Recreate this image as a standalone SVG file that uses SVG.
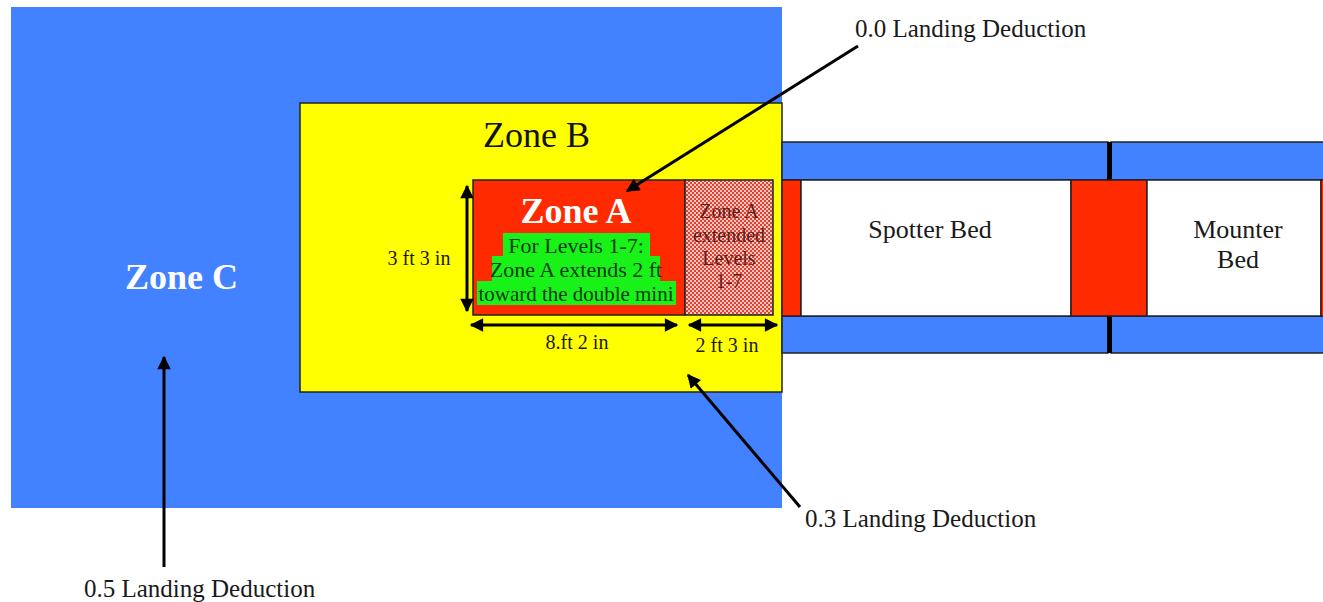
<svg xmlns="http://www.w3.org/2000/svg" width="1323" height="602" viewBox="0 0 1323 602">
<style>
text{font-family:"Liberation Serif","Times New Roman",serif;}
.lbl{font-size:25px;fill:#1a1a1a;}
.bed{font-size:26px;fill:#1a1a1a;text-anchor:middle;}
.dim{font-size:20px;fill:#1a1a1a;}
.grn{font-size:22px;fill:#0a3a0a;text-anchor:middle;}
.hat{font-size:20px;fill:#5a1e1e;text-anchor:middle;}
.ol{stroke:#222;stroke-width:1.5;}
.blue{fill:#4281ff;}
.red{fill:#ff2a00;}
.con{stroke:#000;stroke-width:3;fill:none;}
</style>
<defs>
<marker id="ah" viewBox="0 0 10 10" refX="9" refY="5" markerWidth="5" markerHeight="4.5" orient="auto-start-reverse" markerUnits="strokeWidth">
<path d="M0,0 L10,5 L0,10 z" fill="#000"/>
</marker>
<pattern id="chk" width="4" height="4" patternUnits="userSpaceOnUse">
<rect width="4" height="4" fill="#f3c8c2"/>
<rect width="2" height="2" fill="#e4402f"/>
<rect x="2" y="2" width="2" height="2" fill="#e4402f"/>
</pattern>
</defs>
<rect width="1323" height="602" fill="#fff"/>

<g id="zoneC">
<rect class="blue" x="11" y="7" width="771" height="501"/>
<text x="125" y="289" font-size="36" font-weight="bold" fill="#fff">Zone C</text>
</g>

<g id="zoneB">
<rect class="ol" x="300" y="103" width="482" height="289" fill="#ffff00"/>
<text x="483" y="147" font-size="36" fill="#111">Zone B</text>
</g>

<g id="strips">
<rect class="blue ol" x="782" y="142" width="326" height="38"/>
<rect class="blue ol" x="1111" y="142" width="214" height="38"/>
<rect class="blue ol" x="782" y="316" width="326" height="37"/>
<rect class="blue ol" x="1111" y="316" width="214" height="37"/>
<rect x="1107" y="142" width="5" height="38" fill="#000"/>
<rect x="1107" y="316" width="5" height="37" fill="#000"/>
</g>

<g id="spotterBed">
<rect class="red ol" x="782" y="180" width="19" height="136"/>
<rect class="ol" x="801" y="180" width="270" height="136" fill="#fff"/>
<text class="bed" x="930" y="238">Spotter Bed</text>
</g>

<g id="mounterBed">
<rect class="red ol" x="1071" y="180" width="76" height="136"/>
<rect class="ol" x="1147" y="180" width="174" height="136" fill="#fff"/>
<rect class="red ol" x="1321" y="180" width="4" height="136"/>
<text class="bed" x="1238" y="238">Mounter</text>
<text class="bed" x="1238" y="268">Bed</text>
</g>

<g id="zoneA">
<rect class="red ol" x="473" y="180" width="212" height="135"/>
<text x="576" y="223" font-size="36" font-weight="bold" fill="#fff" text-anchor="middle">Zone A</text>
<rect x="503" y="233" width="147" height="23" fill="#19f219"/>
<rect x="492" y="256" width="168" height="25" fill="#19f219"/>
<rect x="477" y="281" width="199" height="24" fill="#19f219"/>
<text class="grn" x="576" y="253">For Levels 1-7:</text>
<text class="grn" x="576" y="277">Zone A extends 2 ft</text>
<text class="grn" x="576" y="301" textLength="195" lengthAdjust="spacingAndGlyphs">toward the double mini</text>
</g>

<g id="zoneAext">
<rect class="ol" x="685" y="180" width="88" height="135" fill="url(#chk)"/>
<text class="hat" x="729" y="218">Zone A</text>
<text class="hat" x="729" y="242">extended</text>
<text class="hat" x="729" y="265">Levels</text>
<text class="hat" x="729" y="288">1-7</text>
</g>

<g id="dimensions">
<text class="dim" x="419" y="265" text-anchor="middle">3 ft 3 in</text>
<text class="dim" x="577" y="349" text-anchor="middle">8.ft 2 in</text>
<text class="dim" x="727" y="352" text-anchor="middle">2 ft 3 in</text>
</g>

<g id="labels">
<text class="lbl" x="855" y="37">0.0 Landing Deduction</text>
<text class="lbl" x="805" y="527">0.3 Landing Deduction</text>
<text class="lbl" x="84" y="597">0.5 Landing Deduction</text>
</g>

<g id="connectors">
<line class="con" x1="467" y1="186" x2="467" y2="311" marker-start="url(#ah)" marker-end="url(#ah)"/>
<line class="con" x1="471" y1="325" x2="677" y2="325" marker-start="url(#ah)" marker-end="url(#ah)"/>
<line class="con" x1="689" y1="325" x2="777" y2="325" marker-start="url(#ah)" marker-end="url(#ah)"/>
<line class="con" x1="858" y1="46" x2="627" y2="191" marker-end="url(#ah)"/>
<line class="con" x1="800" y1="507" x2="688" y2="375" marker-end="url(#ah)"/>
<line class="con" x1="164" y1="567" x2="164" y2="357" marker-end="url(#ah)"/>
</g>
</svg>
